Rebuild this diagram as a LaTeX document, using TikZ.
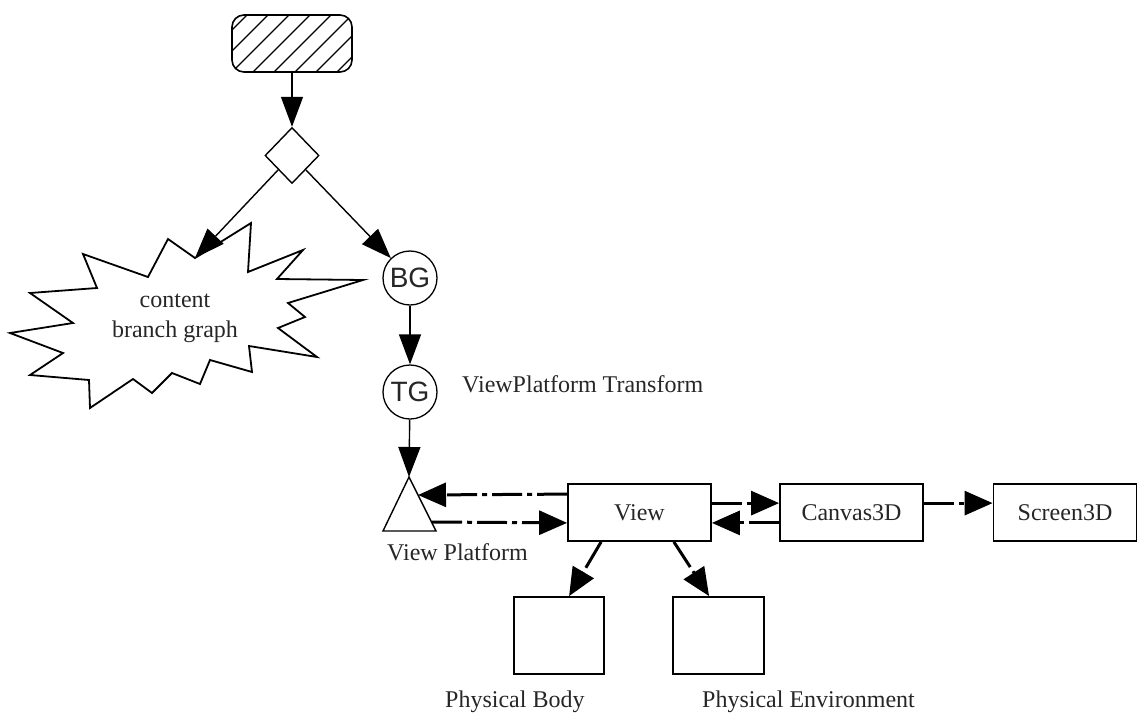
\documentclass[tikz,border=0pt]{standalone}
\usepackage{fontspec}
\setmainfont{Liberation Serif}
\newfontfamily\labelsans{Liberation Sans}
\usetikzlibrary{arrows.meta,shapes.geometric,calc}

\begin{document}
\begin{tikzpicture}[x=1pt,y=-1pt,
  txt/.style={font=\fontsize{24}{30}\selectfont, text=black!85, inner sep=0pt},
  box/.style={draw, line width=1.8pt, minimum width=143pt, minimum height=57pt,
    inner sep=0pt, font=\fontsize{24}{30}\selectfont, text=black!85},
  groupnode/.style={draw, circle, line width=1.3pt, minimum size=54pt, inner sep=0pt,
    font=\labelsans\fontsize{28}{28}\selectfont, text=black!85},
  treearr/.style={line width=1.4pt, -{Triangle[length=30pt,width=22pt]}},
  refarr/.style={line width=3pt, dash pattern=on 30pt off 5pt on 5pt off 5pt,
    -{Triangle[length=28pt,width=24pt]}},
]
\useasboundingbox (0,0) rectangle (1141,713);

% virtual universe / locale symbol with hatching
\node[draw, line width=1.6pt, rounded corners=12pt, minimum width=120pt,
  minimum height=57pt, inner sep=0pt,
  path picture={
    \foreach \k in {-3,...,6}
      \draw[line width=1.1pt]
        ($(path picture bounding box.south west)+(\k*21pt,0pt)$) -- ++(60pt,60pt);
  }] (root) at (292,43.5) {};

% locale diamond
\node[draw, diamond, line width=1.4pt, minimum width=54pt, minimum height=56pt,
  inner sep=0pt] (dia) at (292,155.5) {};

% content branch graph (burst outline)
\draw[line width=1.8pt, line join=miter]
  (83,254) -- (148,277) -- (168,239) -- (195,258) -- (251,223) -- (248,272)
  -- (303,250) -- (277,279) -- (363,280) -- (288,303) -- (305,317) -- (278,328)
  -- (317,357) -- (249,346) -- (252,372) -- (210,360) -- (200,384) -- (172,373)
  -- (152,393) -- (133,379) -- (90,408) -- (89,380) -- (30,375) -- (63,353)
  -- (10,333) -- (73,323) -- (30,293) -- (97,288) -- cycle;
\coordinate (bursttip) at (195,258);
\node[txt, align=center] (content) at (175,318) {content\\branch graph};

% view branch graph
\node[groupnode] (bg) at (410,278) {BG};
\node[groupnode] (tg) at (410,392) {TG};
\node[txt, anchor=base west] (tglabel) at (462,392) {ViewPlatform Transform};

% view platform triangle
\coordinate (vp) at (409,477);
\coordinate (vpl) at (383,531);
\coordinate (vpr) at (436,531);
\draw[line width=1.4pt, line join=miter] (vp) -- (vpr) -- (vpl) -- cycle;
\coordinate (vpin) at (418,495);
\coordinate (vpout) at (432,522);
\node[txt, anchor=base west] (vplabel) at (387,560) {View Platform};

% view side objects
\node[box] (view) at (639.5,512.5) {View};
\node[box] (canvas) at (851.5,512.5) {Canvas3D};
\node[box] (screen) at (1065,512.5) {Screen3D};
\node[draw, line width=1.8pt, minimum width=90pt, minimum height=77pt,
  inner sep=0pt] (pb) at (559,635.5) {};
\node[draw, line width=1.8pt, minimum width=91pt, minimum height=77pt,
  inner sep=0pt] (pe) at (718.5,635.5) {};
\node[txt, anchor=base west] (pblabel) at (445,707) {Physical Body};
\node[txt, anchor=base west] (pelabel) at (702,707) {Physical Environment};

% scene graph arcs
\draw[treearr] (root.south) -- (dia.north);
\draw[treearr] (dia.south west) -- (bursttip);
\draw[treearr] (dia.south east) -- (bg);
\draw[treearr] (bg) -- (tg);
\draw[treearr] (tg) -- (vp);

% references
\draw[refarr] ($(view.north west)+(0,11)$) -- (vpin);
\draw[refarr] (vpout) -- ($(view.south west)+(0,-19)$);
\draw[refarr] ($(view.north east)+(0,20)$) -- ($(canvas.north west)+(0,20)$);
\draw[refarr] ($(canvas.south west)+(0,-19)$) -- ($(view.south east)+(0,-19)$);
\draw[refarr] ($(canvas.north east)+(0,20)$) -- ($(screen.north west)+(0,20)$);
\draw[refarr] ($(view.south west)+(34,0)$) -- ($(pb.north west)+(56,0)$);
\draw[refarr] ($(view.south east)+(-38,0)$) -- ($(pe.north west)+(37,0)$);
\end{tikzpicture}
\end{document}
